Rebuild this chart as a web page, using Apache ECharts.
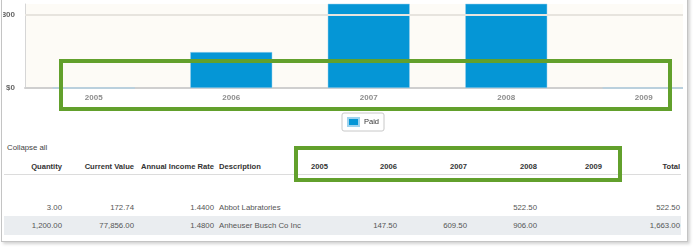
<!DOCTYPE html>
<html>
<head>
<meta charset="utf-8">
<script src="https://cdn.jsdelivr.net/npm/echarts@6/dist/echarts.min.js"></script>
<style>
  html, body { margin:0; padding:0; background:#fff; }
  #page { position:relative; width:697px; height:251px; overflow:hidden; font-family:"Liberation Sans", Arial, sans-serif; }
  #frame { position:absolute; left:1px; top:-6px; width:685px; height:246px; border:1px solid #c4c4c4; background:#fff; box-shadow:2px 2px 3px rgba(0,0,0,0.18); }
  #chart { position:absolute; left:3px; top:0; width:680px; height:135px; }
  .t { position:absolute; white-space:nowrap; font-size:7.8px; line-height:10px; color:#555; }
  .h { font-weight:bold; color:#333; font-size:7.6px; }
  .box { position:absolute; border:4px solid #62a02c; box-sizing:border-box; }
</style>
</head>
<body>
<div id="page">
  <div id="frame"></div>
  <div id="chart"></div>
  <div id="table"></div>
</div>
<script>
// ---- data ----
var years = ['2005', '2006', '2007', '2008', '2009'];
var paid = [0, 147.5, 609.5, 1428.5, 0];
var yTickValues = [0, 300];
var seriesName = 'Paid';

var headers = ['Quantity', 'Current Value', 'Annual Income Rate', 'Description', '2005', '2006', '2007', '2008', '2009', 'Total'];
var quantity = ['3.00', '1,200.00'];
var currentValue = ['172.74', '77,856.00'];
var incomeRate = ['1.4400', '1.4800'];
var description = ['Abbot Labratories', 'Anheuser Busch Co Inc'];
var y2005 = ['', ''];
var y2006 = ['', '147.50'];
var y2007 = ['', '609.50'];
var y2008 = ['522.50', '906.00'];
var y2009 = ['', ''];
var total = ['522.50', '1,663.00'];
var collapseText = 'Collapse all';

// ---- chart ----
var chart = echarts.init(document.getElementById('chart'), null, {renderer: 'canvas'});
chart.setOption({
  animation: false,
  grid: { left: 22, top: 4, width: 687.5, height: 84, show: true, backgroundColor: '#fdfbf6', borderWidth: 0, containLabel: false, outerBoundsMode: 'none' },
  legend: {
    data: [seriesName], left: 339, top: 113, padding: [4, 5, 4, 5],
    itemWidth: 11, itemHeight: 8, icon: 'rect',
    borderColor: '#c8c8c8', borderWidth: 1, borderRadius: 2,
    textStyle: { fontSize: 7.5, color: '#333', fontFamily: 'Liberation Sans' }
  },
  xAxis: {
    type: 'category', data: years, boundaryGap: true,
    axisLine: { show: true, lineStyle: { color: '#cfcfcf', width: 2 } },
    axisTick: { show: false },
    axisLabel: { margin: 6, fontSize: 8, fontWeight: 'bold', color: '#8c8c8c', fontFamily: 'Liberation Sans' }
  },
  yAxis: {
    type: 'value', min: 0, max: 345, interval: 300,
    axisLine: { show: true, lineStyle: { color: '#d6d6d6', width: 1 } },
    axisTick: { show: false },
    splitLine: { show: false },
    axisLabel: {
      margin: 10, fontSize: 8, fontWeight: 'bold', color: '#666', fontFamily: 'Liberation Sans',
      hideOverlap: false,
      formatter: function (v) { return yTickValues.indexOf(v) >= 0 ? '$' + v : ''; }
    }
  },
  series: [
    {
      type: 'line', data: [], z: 1, silent: true,
      markLine: {
        silent: true, symbol: 'none', label: { show: false },
        lineStyle: { color: '#e7e4de', width: 2, type: 'solid' },
        data: yTickValues.slice(1).map(function (v) { return { yAxis: v }; })
      }
    },
    {
      name: seriesName, type: 'bar', data: paid, barWidth: 82, z: 2,
      itemStyle: { color: '#0596d6', borderColor: '#9fd3ee', borderWidth: 0.5 }
    }
  ]
});

// ---- table ----
var cols = [
  { vals: quantity, right: 62 },
  { vals: currentValue, right: 134 },
  { vals: incomeRate, right: 214 },
  { vals: description, left: 219 },
  { vals: y2005, right: 328 },
  { vals: y2006, right: 397 },
  { vals: y2007, right: 467 },
  { vals: y2008, right: 537 },
  { vals: y2009, right: 602 },
  { vals: total, right: 680 }
];
var rowY = [203, 221];
var headerY = 162;
var page = document.getElementById('page');
var tbl = document.getElementById('table');
function addText(txt, col, top, cls) {
  var s = document.createElement('div');
  s.className = 't' + (cls ? ' ' + cls : '');
  s.textContent = txt;
  s.style.top = top + 'px';
  if (col.left !== undefined) s.style.left = col.left + 'px';
  else s.style.right = (697 - col.right) + 'px';
  tbl.appendChild(s);
}
// row 2 background
var bg = document.createElement('div');
bg.style.cssText = 'position:absolute;left:4px;top:216px;width:677px;height:19px;background:#eaedf0;';
tbl.appendChild(bg);
// header line
var hl = document.createElement('div');
hl.style.cssText = 'position:absolute;left:4px;top:174px;width:677px;height:1px;background:#dcdcdc;';
tbl.appendChild(hl);
addText(collapseText, { left: 7 }, 143, '');
tbl.lastChild.style.color = '#444';
cols.forEach(function (c, i) {
  addText(headers[i], c, headerY, 'h');
  c.vals.forEach(function (v, r) { if (v) addText(v, c, rowY[r], ''); });
});

// ---- annotation boxes ----
[[59, 59, 613, 52], [294, 146, 328, 36]].forEach(function (b) {
  var d = document.createElement('div');
  d.className = 'box';
  d.style.left = b[0] + 'px'; d.style.top = b[1] + 'px';
  d.style.width = b[2] + 'px'; d.style.height = b[3] + 'px';
  page.appendChild(d);
});
</script>
</body>
</html>
